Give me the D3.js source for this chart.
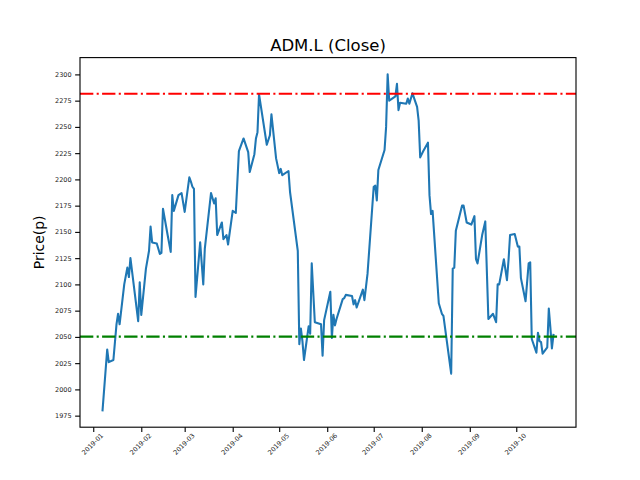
<!DOCTYPE html>
<html>
<head>
<meta charset="utf-8">
<script src="https://cdn.jsdelivr.net/npm/d3@7"></script>
<style>
  body { margin: 0; background: #fff; }
  svg { display: block; font-family: "DejaVu Sans", sans-serif; }
</style>
</head>
<body>
<div id="chart"></div>
<script>
// Close prices (pence)
const dates = [
    '2019-01-07','2019-01-10','2019-01-11','2019-01-14','2019-01-16','2019-01-17','2019-01-18','2019-01-21',
    '2019-01-23','2019-01-24','2019-01-25','2019-01-28','2019-01-30','2019-01-31','2019-02-01','2019-02-04',
    '2019-02-06','2019-02-07','2019-02-08','2019-02-11','2019-02-13','2019-02-14','2019-02-15','2019-02-18',
    '2019-02-20','2019-02-21','2019-02-22','2019-02-25','2019-02-27','2019-03-01','2019-03-04','2019-03-05',
    '2019-03-06','2019-03-07','2019-03-08','2019-03-11','2019-03-13','2019-03-14','2019-03-18','2019-03-20',
    '2019-03-21','2019-03-22','2019-03-25','2019-03-26','2019-03-28','2019-03-29','2019-04-01','2019-04-03',
    '2019-04-05','2019-04-08','2019-04-11','2019-04-12','2019-04-15','2019-04-16','2019-04-17','2019-04-18',
    '2019-04-23','2019-04-25','2019-04-26','2019-04-29','2019-05-01','2019-05-02','2019-05-03','2019-05-07',
    '2019-05-08','2019-05-13','2019-05-14','2019-05-15','2019-05-16','2019-05-17','2019-05-20','2019-05-21',
    '2019-05-22','2019-05-24','2019-05-28','2019-05-29','2019-05-30','2019-06-03','2019-06-04','2019-06-05',
    '2019-06-06','2019-06-07','2019-06-11','2019-06-12','2019-06-13','2019-06-17','2019-06-18','2019-06-19',
    '2019-06-20','2019-06-24','2019-06-25','2019-06-27','2019-07-01','2019-07-02','2019-07-03','2019-07-04',
    '2019-07-08','2019-07-09','2019-07-10','2019-07-11','2019-07-15','2019-07-16','2019-07-17','2019-07-18',
    '2019-07-22','2019-07-23','2019-07-24','2019-07-26','2019-07-29','2019-07-30','2019-07-31','2019-08-02',
    '2019-08-05','2019-08-06','2019-08-07','2019-08-08','2019-08-12','2019-08-14','2019-08-15','2019-08-20',
    '2019-08-21','2019-08-22','2019-08-23','2019-08-27','2019-08-28','2019-08-30','2019-09-02','2019-09-04',
    '2019-09-05','2019-09-06','2019-09-09','2019-09-11','2019-09-13','2019-09-16','2019-09-18','2019-09-19',
    '2019-09-20','2019-09-23','2019-09-25','2019-09-26','2019-09-27','2019-09-30','2019-10-02','2019-10-03',
    '2019-10-04','2019-10-07','2019-10-09','2019-10-10','2019-10-11','2019-10-14','2019-10-15','2019-10-16',
    '2019-10-17','2019-10-18','2019-10-21','2019-10-22','2019-10-23','2019-10-24','2019-10-25'
];
const closes = [
    1980, 2038, 2026, 2028, 2062, 2072, 2062, 2100,
    2116, 2107, 2125, 2089, 2065, 2102, 2071, 2115,
    2132, 2155, 2140, 2139, 2129, 2130, 2172, 2147,
    2131, 2185, 2170, 2185, 2187, 2169, 2202, 2198,
    2193, 2191, 2088, 2140, 2100, 2134, 2187, 2177,
    2182, 2147, 2159, 2143, 2147, 2138, 2170, 2168,
    2227, 2239, 2226, 2207, 2224, 2239, 2245, 2281,
    2233, 2242, 2262, 2220, 2206, 2210, 2204, 2208,
    2188, 2132, 2043, 2058, 2046, 2028, 2060, 2053,
    2120, 2064, 2062, 2032, 2066, 2093, 2049, 2071,
    2061, 2067, 2086, 2087, 2090, 2089, 2081, 2085,
    2078, 2095, 2085, 2110, 2193, 2194, 2180, 2209,
    2228, 2250, 2300, 2275, 2279, 2291, 2266, 2273,
    2272, 2277, 2272, 2282, 2269, 2256, 2221, 2227,
    2235, 2185, 2167, 2170, 2082, 2072, 2070, 2015,
    2115, 2116, 2151, 2175, 2175, 2159, 2157, 2165,
    2124, 2120, 2147, 2160, 2067, 2072, 2064, 2100,
    2100, 2124, 2104, 2123, 2147, 2148, 2136, 2136,
    2106, 2084, 2120, 2121, 2048, 2035, 2054, 2046,
    2045, 2034, 2040, 2077, 2059, 2039, 2052
];
// horizontal reference levels
const upperLevel = 2281.5;
const lowerLevel = 2050.3;
const yTicks = [1975, 2000, 2025, 2050, 2075, 2100, 2125, 2150, 2175, 2200, 2225, 2250, 2275, 2300];
const xTickLabels = ['2019-01','2019-02','2019-03','2019-04','2019-05','2019-06','2019-07','2019-08','2019-09','2019-10'];

const width = 640, height = 480;
const margin = { left: 80, right: 64, top: 57.6, bottom: 52.8 };
const innerW = width - margin.left - margin.right;
const innerH = height - margin.top - margin.bottom;
const pt = 100 / 72; // matplotlib points -> px at 100 dpi

const parse = d3.timeParse('%Y-%m-%d');
const parseMonth = d3.timeParse('%Y-%m');
const data = dates.map((d, i) => ({ date: parse(d), close: closes[i] }));

// matplotlib style 5% padding
const xExt = d3.extent(data, d => d.date);
const xPad = (xExt[1] - xExt[0]) * 0.05;
const yExt = d3.extent(data, d => d.close);
const yPad = (yExt[1] - yExt[0]) * 0.05;

const x = d3.scaleTime()
    .domain([new Date(+xExt[0] - xPad), new Date(+xExt[1] + xPad)])
    .range([0, innerW]);
const y = d3.scaleLinear()
    .domain([yExt[0] - yPad, yExt[1] + yPad])
    .range([innerH, 0]);

const svg = d3.select('#chart').append('svg')
    .attr('width', width)
    .attr('height', height);

const g = svg.append('g')
    .attr('transform', `translate(${margin.left},${margin.top})`);

svg.append('defs').append('clipPath').attr('id', 'plot-clip')
    .append('rect').attr('width', innerW).attr('height', innerH);

const plot = g.append('g').attr('clip-path', 'url(#plot-clip)');

// Price line
const line = d3.line()
    .x(d => x(d.date))
    .y(d => y(d.close));

plot.append('path')
    .datum(data)
    .attr('fill', 'none')
    .attr('stroke', '#1f77b4')
    .attr('stroke-width', 1.5 * pt)
    .attr('stroke-linejoin', 'round')
    .attr('stroke-linecap', 'square')
    .attr('d', line);

// Reference lines (dash-dot, matplotlib '-.')
const dashDot = [9.6, 2.4, 1.5, 2.4].map(v => v * pt).join(',');
[[upperLevel, '#ff0000'], [lowerLevel, '#008000']].forEach(([lvl, col]) => {
    plot.append('line')
        .attr('x1', 0).attr('x2', innerW)
        .attr('y1', y(lvl)).attr('y2', y(lvl))
        .attr('stroke', col)
        .attr('stroke-width', 1.5 * pt)
        .attr('stroke-dasharray', dashDot);
});

// Y axis
const yAxis = g.append('g')
    .call(d3.axisLeft(y).tickValues(yTicks).tickSize(3.5 * pt).tickPadding(3.5).tickFormat(d3.format('d')));
yAxis.select('.domain').remove();
yAxis.selectAll('.tick line').attr('stroke', '#000').attr('stroke-width', 0.8 * pt);
yAxis.selectAll('.tick text')
    .attr('fill', '#222')
    .style('font-size', '6.5px')
    .style('font-family', '"DejaVu Sans", sans-serif');

// X axis
const xAxis = g.append('g')
    .attr('transform', `translate(0,${innerH})`)
    .call(d3.axisBottom(x)
        .tickValues(xTickLabels.map(parseMonth))
        .tickSize(3.5 * pt)
        .tickFormat(d3.timeFormat('%Y-%m')));
xAxis.select('.domain').remove();
xAxis.selectAll('.tick line').attr('stroke', '#000').attr('stroke-width', 0.8 * pt);
xAxis.selectAll('.tick text')
    .attr('fill', '#222')
    .attr('y', 0)
    .attr('dy', 0)
    .attr('text-anchor', 'middle')
    .attr('dominant-baseline', 'central')
    .attr('transform', 'translate(-1,17) rotate(-45)')
    .style('font-size', '6.5px')
    .style('font-family', '"DejaVu Sans", sans-serif');

// Frame
g.append('rect')
    .attr('width', innerW)
    .attr('height', innerH)
    .attr('fill', 'none')
    .attr('stroke', '#000')
    .attr('stroke-width', 0.8 * pt);

// Title and axis label
svg.append('text')
    .attr('x', margin.left + innerW / 2)
    .attr('y', margin.top - 7)
    .attr('text-anchor', 'middle')
    .style('font-size', '16.5px')
    .text('ADM.L (Close)');

svg.append('text')
    .attr('transform', `translate(44,${margin.top + innerH / 2}) rotate(-90)`)
    .attr('text-anchor', 'middle')
    .style('font-size', '13.9px')
    .text('Price(p)');
</script>
</body>
</html>
